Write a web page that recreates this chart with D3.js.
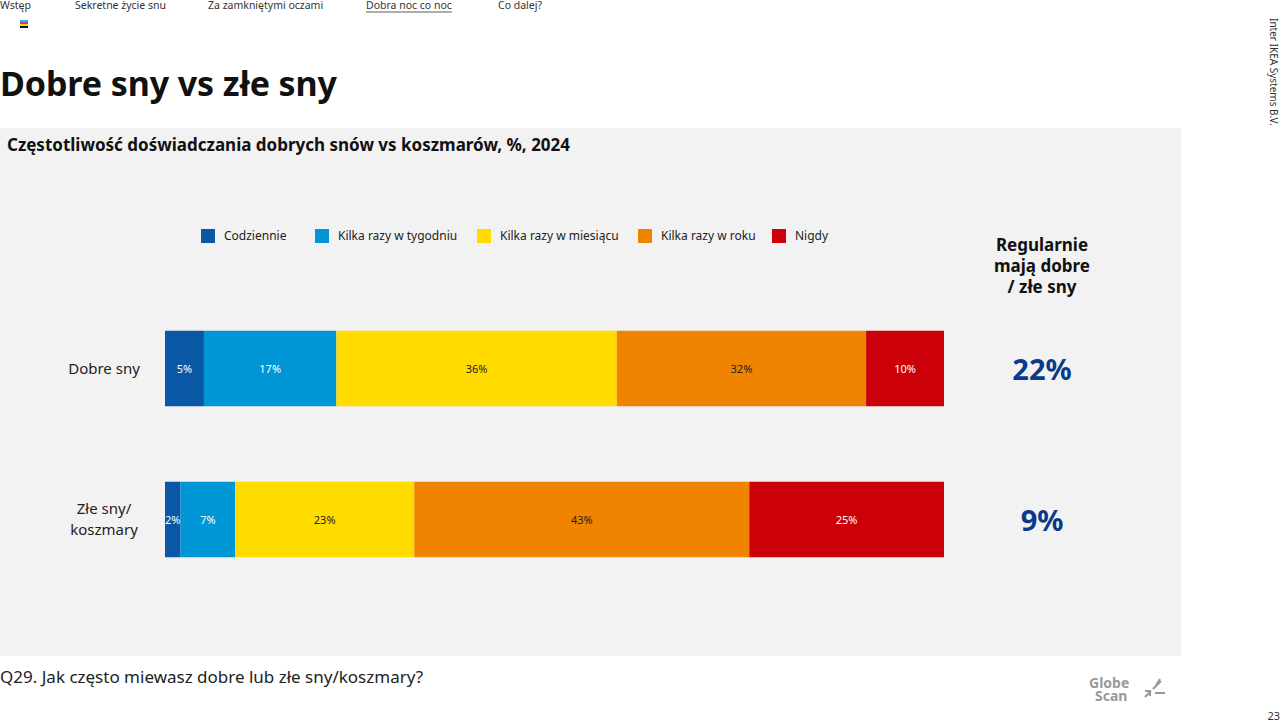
<!DOCTYPE html>
<html><head><meta charset="utf-8">
<script src="https://cdn.jsdelivr.net/npm/d3@7"></script>
<style>body{margin:0;background:#fff;font-family:"Noto Sans",sans-serif}</style>
</head><body>
<svg id="c" width="1280" height="721"></svg>
<script>
const categories = ["Dobre sny", "Złe sny/\nkoszmary"];
const seriesNames = ["Codziennie","Kilka razy w tygodniu","Kilka razy w miesiącu","Kilka razy w roku","Nigdy"];
const seriesColors = ["#0a58a5","#0095d4","#ffdb00","#f08300","#cc0008"];
const dobreSny = [5,17,36,32,10];
const zleSny = [2,7,23,43,25];
const regularly = ["22%","9%"];
const navItems = ["Wstęp","Sekretne życie snu","Za zamkniętymi oczami","Dobra noc co noc","Co dalej?"];
const navX = [0,75,208,366,498];

const svg = d3.select("#c");
const F = "Noto Sans";
navItems.forEach((t,i)=>{
  const tx = svg.append("text").attr("x",navX[i]).attr("y",9).attr("font-size",10.5).attr("fill","#333").attr("font-family",F).text(t);
  if(i===3){ const w=tx.node().getComputedTextLength(); svg.append("line").attr("x1",navX[i]).attr("x2",navX[i]+w).attr("y1",12).attr("y2",12).attr("stroke","#333").attr("stroke-width",0.8);}
});
[["#29b6e8",20],["#b03fa0",22],["#ffd800",24],["#111",26]].forEach(([c,y])=>svg.append("rect").attr("x",20).attr("y",y).attr("width",8).attr("height",2).attr("fill",c));
svg.append("text").attr("x",1270).attr("y",18).attr("transform","rotate(90,1270,18)").attr("font-size",10).attr("fill","#333").attr("font-family",F).text("Inter IKEA Systems B.V.");
svg.append("text").attr("x",0).attr("y",96).attr("font-size",34).attr("font-weight",700).attr("font-family",F).attr("fill","#111").attr("textLength",337).text("Dobre sny vs złe sny");
svg.append("rect").attr("x",0).attr("y",128).attr("width",1181).attr("height",528).attr("fill","#f2f2f2");
svg.append("text").attr("x",7).attr("y",151).attr("font-size",17).attr("font-weight",700).attr("font-family",F).attr("fill","#111").text("Częstotliwość doświadczania dobrych snów vs koszmarów, %, 2024");
const legX=[201,315,477,638,772];
seriesNames.forEach((s,i)=>{
  svg.append("rect").attr("x",legX[i]).attr("y",229).attr("width",14).attr("height",14).attr("fill",seriesColors[i]);
  svg.append("text").attr("x",legX[i]+23).attr("y",240).attr("font-size",12).attr("font-family",F).attr("fill","#222").text(s);
});
const x = d3.scaleLinear().domain([0,100]).range([165,944]);
const y = d3.scaleBand().domain(categories).range([293,595]).paddingInner(0.5).paddingOuter(0.25);
const data=[dobreSny,zleSny];
categories.forEach((c,ci)=>{
  let acc=0;
  const g=svg.append("g");
  data[ci].forEach((v,i)=>{
    const x0=x(acc), x1=x(acc+v); acc+=v;
    g.append("rect").attr("x",x0).attr("y",y(c)).attr("width",x1-x0).attr("height",y.bandwidth()).attr("fill",seriesColors[i]);
    g.append("text").attr("x",(x0+x1)/2).attr("y",y(c)+y.bandwidth()/2+4).attr("text-anchor","middle").attr("font-size",11).attr("font-family",F)
      .attr("fill",(i===2||i===3)?"#222":"#fff").text(v+"%");
  });
  const lines=c.split("\n");
  lines.forEach((l,li)=>svg.append("text").attr("x",104).attr("y",y(c)+y.bandwidth()/2+5+(li-(lines.length-1)/2)*21).attr("text-anchor","middle").attr("font-size",15).attr("font-family",F).attr("fill","#222").text(l));
  svg.append("text").attr("x",1042).attr("y",y(c)+y.bandwidth()/2+11).attr("text-anchor","middle").attr("font-size",29).attr("font-weight",700).attr("font-family",F).attr("fill","#0a3a8a").text(regularly[ci]);
});
["Regularnie","mają dobre","/ złe sny"].forEach((t,i)=>svg.append("text").attr("x",1042).attr("y",251+i*21).attr("text-anchor","middle").attr("font-size",17).attr("font-weight",700).attr("font-family",F).attr("fill","#111").text(t));
svg.append("text").attr("x",0).attr("y",683).attr("font-size",17).attr("font-family",F).attr("fill","#222").text("Q29. Jak często miewasz dobre lub złe sny/koszmary?");
svg.append("text").attr("x",1089).attr("y",688).attr("font-size",14).attr("font-weight",700).attr("font-family",F).attr("fill","#999").text("Globe");
svg.append("text").attr("x",1095).attr("y",701).attr("font-size",14).attr("font-weight",700).attr("font-family",F).attr("fill","#999").text("Scan");
svg.append("path").attr("d","M1145,697 l6,-6 M1145,691 h5 v5 M1153,689 l8,-8 M1155,693 h10 M1156,685 l4,-6").attr("stroke","#999").attr("stroke-width",2).attr("fill","none");
svg.append("text").attr("x",1280).attr("y",720).attr("text-anchor","end").attr("font-size",11).attr("font-family",F).attr("fill","#333").text("23");
</script>
</body></html>
